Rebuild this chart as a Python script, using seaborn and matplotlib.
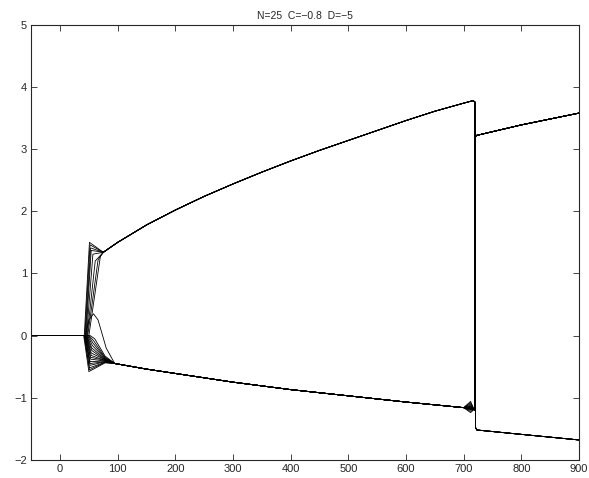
import pandas as pd
import seaborn as sns
import matplotlib
matplotlib.use("Agg")
import matplotlib.pyplot as plt

# shared upper branch (before the jump)
up_x = [75, 100, 150, 200, 250, 300, 350, 400, 450, 500, 550, 600, 650, 700, 716]
up_y = [1.34, 1.50, 1.78, 2.02, 2.24, 2.44, 2.63, 2.81, 2.98, 3.14, 3.30, 3.46, 3.61, 3.74, 3.78]
# shared lower branch (before the jump)
lo_x = [95, 150, 200, 300, 400, 500, 600, 700]
lo_y = [-0.45, -0.54, -0.61, -0.75, -0.87, -0.97, -1.07, -1.16]
# branches after the jump
up2_x = [722, 800, 900]
up2_y = [3.22, 3.39, 3.58]
lo2_x = [723, 800, 900]
lo2_y = [-1.52, -1.59, -1.68]

# lines that go up after the transient
u_start = [42, 43, 44, 45, 46, 47, 48, 50]
u_peak_x = [51, 52, 53, 54, 57, 61, 66, 70]
u_peak_y = [1.50, 1.46, 1.41, 1.37, 1.31, 1.20, 1.22, 1.28]

# lines that go down after the transient
l_start = [41, 42, 42, 43, 43, 44, 44, 45, 45, 46, 46, 47, 48, 49, 50, 52]
l_dip_x = [50, 51, 51, 52, 52, 52, 53, 53, 54, 54, 55, 55, 56, 57, 58, 60]
l_dip_y = [-0.58, -0.55, -0.52, -0.48, -0.45, -0.42, -0.38, -0.35, -0.32, -0.28,
           -0.24, -0.20, -0.16, -0.12, -0.08, -0.05]
l_mid_y = [-0.44, -0.43, -0.43, -0.42, -0.42, -0.41, -0.41, -0.40, -0.40, -0.39,
           -0.39, -0.38, -0.37, -0.36, -0.35, -0.33]
l_flare_y = [-1.24, -1.22, -1.20, -1.19, -1.18, -1.18, -1.17, -1.17, -1.16, -1.16,
             -1.15, -1.14, -1.12, -1.10, -1.08, -1.06]

# the single line with a small hump before falling to the lower branch
bump_x = [44, 50, 58, 66, 80, 93]
bump_y = [0.0, 0.25, 0.35, 0.25, -0.20, -0.42]

rows = []


def add(line, xs, ys):
    for a, b in zip(xs, ys):
        rows.append({"x": a, "y": b, "line": line})


n = 0
for s, px, py in zip(u_start, u_peak_x, u_peak_y):
    xs = [-50, s, px] + up_x + [719.5, 720.5] + lo2_x
    ys = [0, 0, py] + up_y + [3.76, -1.48] + lo2_y
    add(n, xs, ys)
    n += 1

for s, dx, dy, my, fy in zip(l_start, l_dip_x, l_dip_y, l_mid_y, l_flare_y):
    xs = [-50, s, dx, 78] + lo_x + [712, 718, 719.6, 720.4] + up2_x
    ys = [0, 0, dy, my] + lo_y + [fy, -1.19, -1.2, 3.2] + up2_y
    add(n, xs, ys)
    n += 1

add(n, [-50] + bump_x + lo_x + [712, 718, 719.6, 720.4] + up2_x,
    [0] + bump_y + lo_y + [-1.14, -1.19, -1.2, 3.2] + up2_y)

df = pd.DataFrame(rows)

sns.set_style("ticks")
plt.rcParams["font.family"] = ["Liberation Sans", "DejaVu Sans"]

fig = plt.figure(figsize=(5.89, 4.78), dpi=100)
ax = fig.add_axes([0.053, 0.038, 0.930, 0.910])
sns.lineplot(data=df, x="x", y="y", units="line", estimator=None, sort=False,
             color="black", lw=0.6, ax=ax, legend=False)

ax.set_xlim(-50, 900)
ax.set_ylim(-2, 5)
ax.set_xticks(range(0, 901, 100))
ax.set_yticks(range(-2, 6))
ax.set_yticklabels([str(v).replace("-", "\u2212") for v in range(-2, 6)])
ax.tick_params(direction="in", length=4, width=0.6, labelsize=8,
               top=True, right=True, pad=3)
for sp in ax.spines.values():
    sp.set_linewidth(0.8)
ax.set_xlabel("")
ax.set_ylabel("")
ax.set_title("N=25  C=\u22120.8  D=\u22125", fontsize=7.5, pad=4)

fig.savefig("out.png", dpi=100)
